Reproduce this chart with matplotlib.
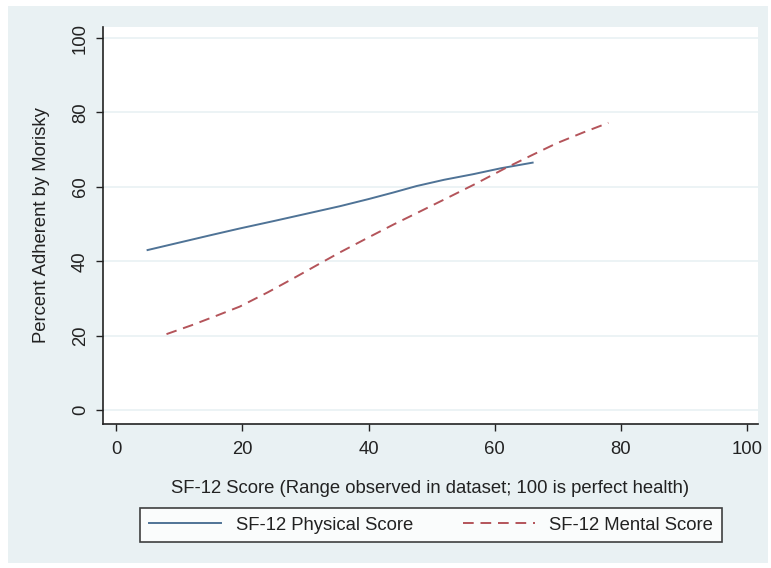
import matplotlib
matplotlib.use("Agg")
import matplotlib.pyplot as plt
from matplotlib import font_manager
from matplotlib.patches import Rectangle

names = {f.name for f in font_manager.fontManager.ttflist}
fam = "Liberation Sans Narrow" if "Liberation Sans Narrow" in names else "Liberation Sans"
plt.rcParams['font.family'] = [fam, 'DejaVu Sans']

# Data
phys_x = [5, 10, 15, 19.6, 25, 30, 35.5, 40, 44, 47.6, 52, 56.6, 61, 66]
phys_y = [43.0, 45.0, 47.0, 48.8, 50.8, 52.7, 54.8, 56.7, 58.5, 60.2, 61.9, 63.4, 65.0, 66.5]
ment_x = [8, 12, 16, 19.6, 24, 28, 32, 35.5, 40, 44, 47.6, 52, 56.6, 61.9, 66, 69.8, 74, 78]
ment_y = [20.4, 22.8, 25.4, 27.8, 31.6, 35.3, 39.1, 42.4, 46.4, 49.9, 52.9, 56.6, 60.5,
          65.2, 68.6, 71.7, 74.6, 77.2]
xticks = [0, 20, 40, 60, 80, 100]
yticks = [0, 20, 40, 60, 80, 100]

BG = "#e9f1f3"
FS = 13.3
W, H = 771, 568
fig = plt.figure(figsize=(W/100, H/100), dpi=100)
fig.patch.set_facecolor("white")
fig.add_artist(Rectangle((8/W, 1-563/H), (768-8)/W, (563-6)/H, transform=fig.transFigure,
                         facecolor=BG, edgecolor="none", zorder=-10))

ax = fig.add_axes([103/W, 1-424/H, (758-103)/W, (424-27)/H])
ax.set_facecolor("white")
ax.plot(phys_x, phys_y, color="#4f7396", lw=1.4, label="SF-12 Physical Score")
ax.plot(ment_x, ment_y, color="#b4545a", lw=1.4, ls=(0, (5.5, 3.5)), label="SF-12 Mental Score")

ax.set_xlim(-2.06, 101.7)
ax.set_ylim(-3.76, 102.96)
ax.set_xticks(xticks)
ax.set_yticks(yticks)
ax.tick_params(axis='both', direction='out', length=5, width=1, color='#222222',
               labelsize=FS, labelcolor='#222222')
ax.tick_params(axis='x', pad=7)
ax.tick_params(axis='y', pad=5)
for lab in ax.get_yticklabels():
    lab.set_rotation(90)
    lab.set_va('center')
ax.grid(axis='y', color=BG, lw=1.2)
ax.set_axisbelow(True)
for s in ['top', 'right']:
    ax.spines[s].set_visible(False)
for s in ['left', 'bottom']:
    ax.spines[s].set_color('#222222')
    ax.spines[s].set_linewidth(1.2)

ax.set_xlabel("SF-12 Score (Range observed in dataset; 100 is perfect health)",
              fontsize=FS, color='#222222', labelpad=16)
ax.set_ylabel("Percent Adherent by Morisky", fontsize=FS, color='#222222', labelpad=16)

leg = fig.legend(loc='center', bbox_to_anchor=(431/W, 1-525/H), ncol=2,
                 fontsize=FS, frameon=True, fancybox=False, handlelength=3.9,
                 columnspacing=2.7, handletextpad=0.8, borderpad=0.45)
leg.get_frame().set_edgecolor('#111111')
leg.get_frame().set_linewidth(1.2)
leg.get_frame().set_facecolor('white')
for t in leg.get_texts():
    t.set_color('#222222')

fig.savefig("out.png", dpi=100, facecolor=fig.get_facecolor())
